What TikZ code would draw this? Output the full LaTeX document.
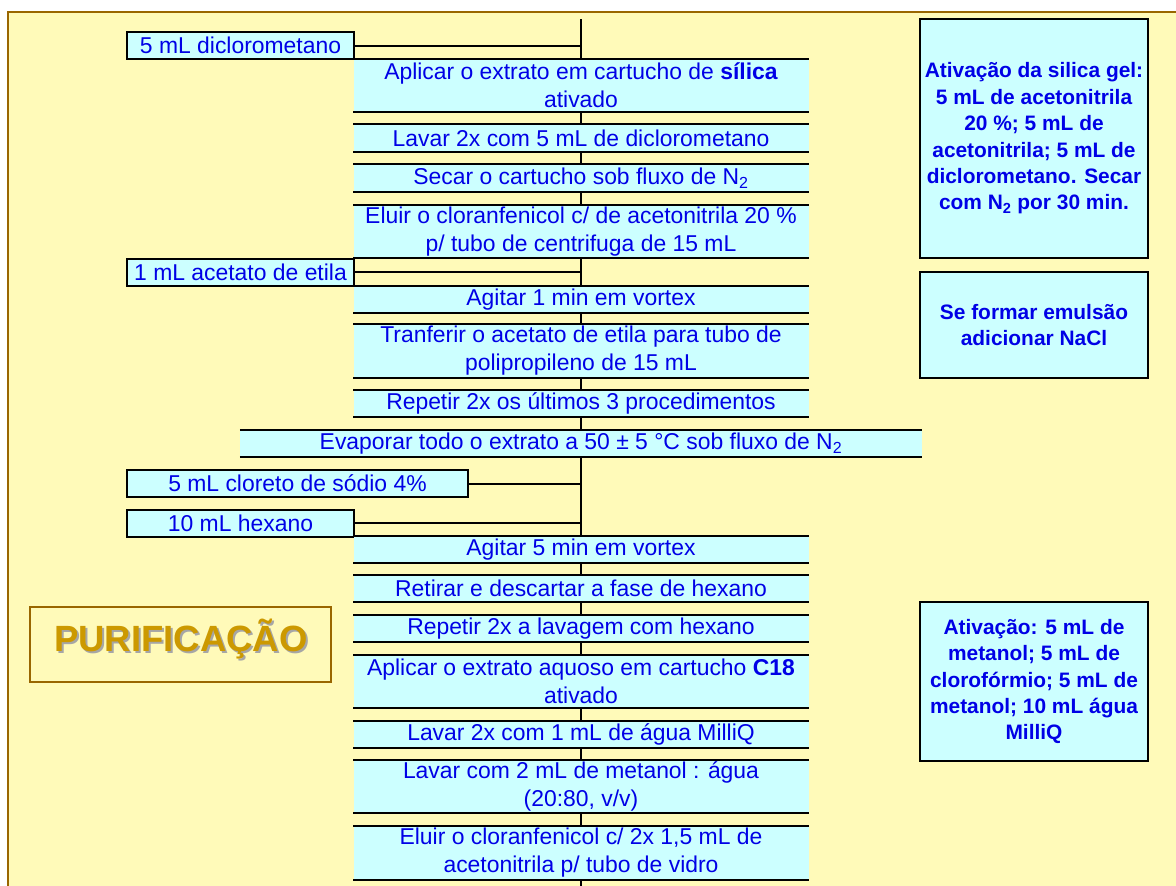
\documentclass[tikz,border=0pt]{standalone}
\usepackage{fontspec}
\setmainfont{Liberation Sans}
\definecolor{paper}{RGB}{255,250,185}
\definecolor{boxcyan}{RGB}{204,255,255}
\definecolor{inkblue}{RGB}{0,0,230}
\definecolor{rim}{RGB}{153,102,0}
\definecolor{gold}{RGB}{204,153,0}
\newcommand\stepfont{\fontsize{22.9}{28}\selectfont}
\newcommand\notefont{\fontsize{20.9}{26.4}\selectfont\bfseries}
\newcommand\titlefont{\fontsize{36.5}{40}\selectfont\bfseries}
\newcommand\Ntwo{N\textsubscript{2}}
\tikzset{
  stepbox/.style={fill=boxcyan, text=inkblue, font=\stepfont, align=center,
    inner sep=0pt, minimum width=455pt, minimum height=27pt},
  addbox/.style={draw=black, line width=2pt, fill=boxcyan, text=inkblue,
    font=\stepfont, inner sep=0pt, minimum height=27pt},
  notebox/.style={draw=black, line width=2pt, fill=boxcyan, text=inkblue,
    font=\notefont, align=center, inner sep=0pt, minimum width=228pt},
  edgeline/.style={line width=2pt, black},
  link/.style={line width=2pt, black},
}
\begin{document}
\begin{tikzpicture}[x=1pt, y=-1pt]
    \useasboundingbox (0,0) rectangle (1176,886);
    \fill[white] (0,0) rectangle (1176,886);
    \fill[paper] (8,12) rectangle (1180,890);
    \draw[rim, line width=2pt] (1180,12) -- (8,12) -- (8,890);

    \def\xm{581}
    \def\xl{240.5}
    \def\xr{1034}

    \coordinate (top) at (\xm, 19);
    \coordinate (bot) at (\xm, 890);

    \node[addbox, minimum width=227pt] (a1) at (\xl, 45.5) {5 mL diclorometano};
    \node[stepbox, minimum height=53pt] (s1) at (\xm, 85.5) {Aplicar o extrato em cartucho de \textbf{sílica}\\ativado};
    \node[stepbox] (s2) at (\xm, 138) {Lavar 2x com 5 mL de diclorometano};
    \node[stepbox] (s3) at (\xm, 178) {Secar o cartucho sob fluxo de \Ntwo};
    \node[stepbox, minimum height=53pt] (s4) at (\xm, 231.5) {Eluir o cloranfenicol c/ de acetonitrila 20 \%\\p/ tubo de centrifuga de 15 mL};
    \node[addbox, minimum width=227pt] (a2) at (\xl, 272) {1 mL acetato de etila};
    \node[stepbox] (s5) at (\xm, 299.5) {Agitar 1 min em vortex};
    \node[stepbox, minimum height=53pt] (s6) at (\xm, 351) {Tranferir o acetato de etila para tubo de\\polipropileno de 15 mL};
    \node[stepbox] (s7) at (\xm, 403.5) {Repetir 2x os últimos 3 procedimentos};
    \node[stepbox, minimum width=682pt] (s8) at (\xm, 443.5) {Evaporar todo o extrato a 50 ± 5 °C sob fluxo de \Ntwo};
    \node[addbox, minimum width=341pt] (a3) at (297.5, 483.5) {5 mL cloreto de sódio 4\%};
    \node[addbox, minimum width=227pt] (a4) at (\xl, 523) {10 mL hexano};
    \node[stepbox] (s9) at (\xm, 549.5) {Agitar 5 min em vortex};
    \node[stepbox] (s10) at (\xm, 588.5) {Retirar e descartar a fase de hexano};
    \node[stepbox] (s11) at (\xm, 628.5) {Repetir 2x a lavagem com hexano};
    \node[stepbox, minimum height=53pt] (s12) at (\xm, 681.5) {Aplicar o extrato aquoso em cartucho \textbf{C18}\\ativado};
    \node[stepbox] (s13) at (\xm, 734.5) {Lavar 2x com 1 mL de água MilliQ};
    \node[stepbox, minimum height=53pt] (s14) at (\xm, 786.5) {Lavar com 2 mL de metanol : água\\(20:80, v/v)};
    \node[stepbox, minimum height=53pt] (s15) at (\xm, 853) {Eluir o cloranfenicol c/ 2x 1,5 mL de\\acetonitrila p/ tubo de vidro};

    \draw[edgeline] (s1.north west) -- (s1.north east) (s1.south west) -- (s1.south east);
    \draw[edgeline] (s2.north west) -- (s2.north east) (s2.south west) -- (s2.south east);
    \draw[edgeline] (s3.north west) -- (s3.north east) (s3.south west) -- (s3.south east);
    \draw[edgeline] (s4.north west) -- (s4.north east) (s4.south west) -- (s4.south east);
    \draw[edgeline] (s5.north west) -- (s5.north east) (s5.south west) -- (s5.south east);
    \draw[edgeline] (s6.north west) -- (s6.north east) (s6.south west) -- (s6.south east);
    \draw[edgeline] (s7.north west) -- (s7.north east) (s7.south west) -- (s7.south east);
    \draw[edgeline] (s8.north west) -- (s8.north east) (s8.south west) -- (s8.south east);
    \draw[edgeline] (s9.north west) -- (s9.north east) (s9.south west) -- (s9.south east);
    \draw[edgeline] (s10.north west) -- (s10.north east) (s10.south west) -- (s10.south east);
    \draw[edgeline] (s11.north west) -- (s11.north east) (s11.south west) -- (s11.south east);
    \draw[edgeline] (s12.north west) -- (s12.north east) (s12.south west) -- (s12.south east);
    \draw[edgeline] (s13.north west) -- (s13.north east) (s13.south west) -- (s13.south east);
    \draw[edgeline] (s14.north west) -- (s14.north east) (s14.south west) -- (s14.south east);
    \draw[edgeline] (s15.north west) -- (s15.north east) (s15.south west) -- (s15.south east);

    \draw[link] (top) -- (s1.north);
    \draw[link] (s1.south) -- (s2.north);
    \draw[link] (s2.south) -- (s3.north);
    \draw[link] (s3.south) -- (s4.north);
    \draw[link] (s4.south) -- (s5.north);
    \draw[link] (s5.south) -- (s6.north);
    \draw[link] (s6.south) -- (s7.north);
    \draw[link] (s7.south) -- (s8.north);
    \draw[link] (s8.south) -- (s9.north);
    \draw[link] (s9.south) -- (s10.north);
    \draw[link] (s10.south) -- (s11.north);
    \draw[link] (s11.south) -- (s12.north);
    \draw[link] (s12.south) -- (s13.north);
    \draw[link] (s13.south) -- (s14.north);
    \draw[link] (s14.south) -- (s15.north);
    \draw[link] (s15.south) -- (bot);

    \draw[link] (a1.east) -- (a1.east -| top);
    \draw[link] (a2.east) -- (a2.east -| top);
    \draw[link] (a3.east) -- (a3.east -| top);
    \draw[link] (a4.east) -- (a4.east -| top);

    \node[notebox, minimum height=239pt] (n1) at (\xr, 138.5) {Ativação da silica gel:\\5 mL de acetonitrila\\20 \%; 5 mL de\\acetonitrila; 5 mL de\\diclorometano. Secar\\com \Ntwo{} por 30 min.};
    \node[notebox, minimum height=106pt] (n2) at (\xr, 325) {Se formar emulsão\\adicionar NaCl};
    \node[notebox, minimum height=159pt] (n3) at (\xr, 681.5) {Ativação: 5 mL de\\metanol; 5 mL de\\clorofórmio; 5 mL de\\metanol; 10 mL água\\MilliQ};

    \node[draw=rim, line width=1.5pt, minimum width=301pt, minimum height=75pt] (purif) at (180.5, 644.5) {};
    \node[text=black!35, font=\titlefont] (shade) at (183, 641) {PURIFICAÇÃO};
    \node[text=gold, font=\titlefont] (title) at (181, 639) {PURIFICAÇÃO};
\end{tikzpicture}
\end{document}
